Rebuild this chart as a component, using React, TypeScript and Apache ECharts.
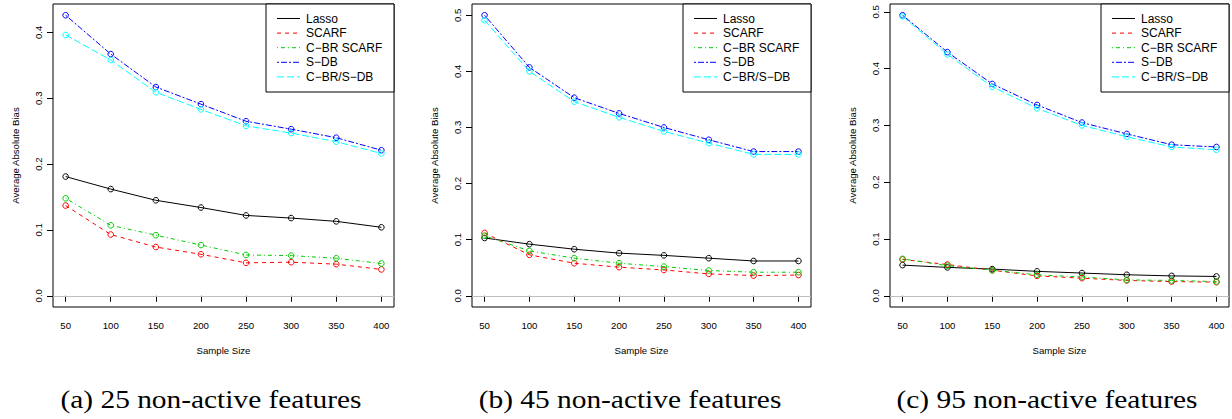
import React, { useEffect, useRef } from "react";
import * as echarts from "echarts";

const sampleSizes = [50, 100, 150, 200, 250, 300, 350, 400];
const yTickValues = [0, 0.1, 0.2, 0.3, 0.4, 0.5];

const methodNames = ["Lasso", "SCARF", "C\u2212BR SCARF", "S\u2212DB", "C\u2212BR/S\u2212DB"];
const methodColors = ["#000000", "#FF0000", "#00CD00", "#0000FF", "#00FFFF"];
const methodDashes: (number[] | "solid")[] = ["solid", [4, 4], [1, 3, 4, 3], [2, 2, 6, 2], [7, 3]];

// Panel (a): 25 non-active features
const lassoA = [0.181, 0.162, 0.145, 0.134, 0.122, 0.118, 0.113, 0.104];
const scarfA = [0.137, 0.093, 0.074, 0.063, 0.050, 0.051, 0.048, 0.040];
const cbrScarfA = [0.148, 0.107, 0.092, 0.077, 0.062, 0.061, 0.057, 0.049];
const sdbA = [0.426, 0.367, 0.317, 0.291, 0.265, 0.253, 0.240, 0.221];
const cbrSdbA = [0.396, 0.358, 0.309, 0.283, 0.258, 0.247, 0.234, 0.216];

// Panel (b): 45 non-active features
const lassoB = [0.103, 0.092, 0.083, 0.076, 0.072, 0.067, 0.062, 0.062];
const scarfB = [0.112, 0.073, 0.058, 0.051, 0.046, 0.039, 0.036, 0.037];
const cbrScarfB = [0.107, 0.080, 0.067, 0.058, 0.052, 0.045, 0.042, 0.042];
const sdbB = [0.500, 0.407, 0.353, 0.325, 0.300, 0.278, 0.257, 0.257];
const cbrSdbB = [0.491, 0.400, 0.346, 0.318, 0.293, 0.272, 0.252, 0.252];

// Panel (c): 95 non-active features
const lassoC = [0.054, 0.050, 0.047, 0.043, 0.040, 0.037, 0.035, 0.034];
const scarfC = [0.064, 0.055, 0.045, 0.035, 0.031, 0.027, 0.025, 0.024];
const cbrScarfC = [0.065, 0.053, 0.045, 0.037, 0.033, 0.028, 0.027, 0.025];
const sdbC = [0.494, 0.429, 0.373, 0.336, 0.305, 0.285, 0.266, 0.262];
const cbrSdbC = [0.492, 0.425, 0.368, 0.330, 0.300, 0.280, 0.262, 0.257];

const captions = ["(a) 25 non-active features", "(b) 45 non-active features", "(c) 95 non-active features"];
const xTitle = "Sample Size";
const yTitle = "Average Absolute Bias";

const panels = [
  [lassoA, scarfA, cbrScarfA, sdbA, cbrSdbA],
  [lassoB, scarfB, cbrScarfB, sdbB, cbrSdbB],
  [lassoC, scarfC, cbrScarfC, sdbC, cbrSdbC],
];

const SANS = "'Liberation Sans', Arial, Helvetica, sans-serif";
const SERIF = "'Liberation Serif', 'Times New Roman', serif";

const gridBoxes = [
  { left: 53, top: 4, width: 341, height: 303, captionX: 211 },
  { left: 472, top: 4, width: 339, height: 303, captionX: 630 },
  { left: 890, top: 4, width: 339, height: 303, captionX: 1047 },
];

export default function App() {
  const ref = useRef<HTMLDivElement>(null);

  useEffect(() => {
    if (!ref.current) return;
    const chart = echarts.init(ref.current, null, { renderer: "svg" });

    const xMinData = Math.min(...sampleSizes);
    const xMaxData = Math.max(...sampleSizes);
    const xPad = (xMaxData - xMinData) * 0.04;

    const grids: any[] = [];
    const xAxes: any[] = [];
    const yAxes: any[] = [];
    const series: any[] = [];
    const graphics: any[] = [];

    panels.forEach((panel, pi) => {
      const box = gridBoxes[pi];
      const yMaxData = Math.max(...panel.map((arr) => Math.max(...arr)));
      const yPad = yMaxData * 0.04;
      const yMax = yMaxData + yPad;
      const yTicks = yTickValues.filter((v) => v <= yMax);

      grids.push({
        left: box.left,
        top: box.top,
        width: box.width,
        height: box.height,
        show: true,
        borderColor: "#000",
        borderWidth: 1,
        backgroundColor: "transparent",
        containLabel: false,
      });

      xAxes.push({
        type: "value",
        gridIndex: pi,
        min: xMinData - xPad,
        max: xMaxData + xPad,
        axisLine: { show: false },
        splitLine: { show: false },
        axisTick: {
          show: true,
          length: 6,
          inside: false,
          customValues: sampleSizes,
          lineStyle: { color: "#000", width: 1 },
        },
        axisLabel: {
          show: true,
          customValues: sampleSizes,
          margin: 13,
          color: "#000",
          fontFamily: SANS,
          fontSize: 9.6,
          formatter: (v: number) => String(v),
        },
        name: xTitle,
        nameLocation: "middle",
        nameGap: 38,
        nameTextStyle: { color: "#000", fontFamily: SANS, fontSize: 9.6 },
      });

      yAxes.push({
        type: "value",
        gridIndex: pi,
        min: -yPad,
        max: yMax,
        axisLine: { show: false },
        splitLine: { show: false },
        axisTick: {
          show: true,
          length: 6,
          inside: false,
          customValues: yTicks,
          lineStyle: { color: "#000", width: 1 },
        },
        axisLabel: {
          show: true,
          customValues: yTicks,
          rotate: 90,
          margin: 10,
          color: "#000",
          fontFamily: SANS,
          fontSize: 9.6,
          formatter: (v: number) => v.toFixed(1),
        },
        name: yTitle,
        nameLocation: "middle",
        nameGap: 33,
        nameRotate: 90,
        nameTextStyle: { color: "#000", fontFamily: SANS, fontSize: 9.6 },
      });

      panel.forEach((values, mi) => {
        const pts = sampleSizes.map((x, i) => [x, values[i]]);
        const s: any = {
          type: "line",
          name: methodNames[mi],
          xAxisIndex: pi,
          yAxisIndex: pi,
          data: pts,
          showSymbol: false,
          symbol: "none",
          lineStyle: { color: methodColors[mi], width: 1, type: methodDashes[mi] },
          z: 3 + mi,
          silent: true,
        };
        if (mi === 0) {
          s.markLine = {
            silent: true,
            symbol: ["none", "none"],
            label: { show: false },
            lineStyle: { color: "#BEBEBE", width: 1, type: "solid" },
            data: [{ yAxis: 0 }],
            z: 1,
          };
        }
        series.push(s);

        const color = methodColors[mi];
        series.push({
          type: "custom",
          name: methodNames[mi] + " points",
          xAxisIndex: pi,
          yAxisIndex: pi,
          data: pts,
          encode: { x: 0, y: 1 },
          silent: true,
          z: 3 + mi,
          renderItem: (_params: any, api: any) => {
            const p = api.coord([api.value(0), api.value(1)]);
            return {
              type: "circle",
              shape: { cx: p[0], cy: p[1], r: 2.8 },
              style: { fill: "none", stroke: color, lineWidth: 1 },
            };
          },
        });
      });

      // Legend box (R-style)
      const lw = 128;
      const lx = box.left + box.width - lw;
      const ly = box.top;
      graphics.push({
        type: "rect",
        shape: { x: lx, y: ly, width: lw, height: 88 },
        style: { fill: "#fff", stroke: "#000", lineWidth: 1 },
        z: 100,
      });
      methodNames.forEach((name, mi) => {
        const cy = ly + 14.5 + 14.6 * mi;
        const dash = methodDashes[mi];
        graphics.push({
          type: "line",
          shape: { x1: lx + 11, y1: cy, x2: lx + 34, y2: cy },
          style: {
            stroke: methodColors[mi],
            lineWidth: 1,
            lineDash: dash === "solid" ? null : dash,
          },
          z: 101,
        });
        graphics.push({
          type: "text",
          x: lx + 40,
          y: cy,
          style: {
            text: name,
            fill: "#000",
            font: `12px ${SANS}`,
            textAlign: "left",
            textVerticalAlign: "middle",
          },
          z: 101,
        });
      });

      graphics.push({
        type: "text",
        x: box.captionX,
        y: 400,
        scaleX: 1.2,
        style: {
          text: captions[pi],
          fill: "#000",
          font: `24.5px ${SERIF}`,
          textAlign: "center",
          textVerticalAlign: "middle",
        },
      });
    });

    chart.setOption({
      animation: false,
      backgroundColor: "#fff",
      grid: grids,
      xAxis: xAxes,
      yAxis: yAxes,
      series,
      graphic: graphics,
    });

    return () => chart.dispose();
  }, []);

  return (
    <div
      ref={ref}
      style={{ position: "absolute", left: 0, top: 0, width: 1232, height: 419 }}
    />
  );
}
